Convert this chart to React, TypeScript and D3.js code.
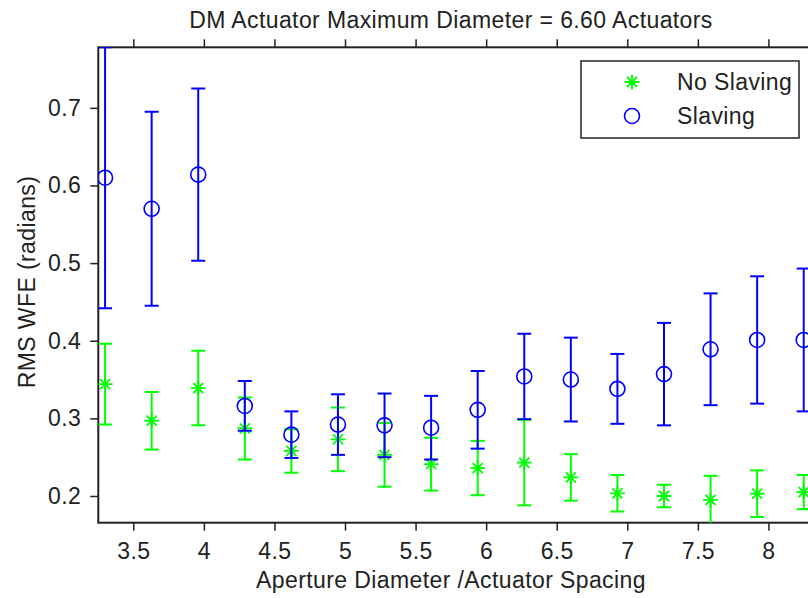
import { useEffect, useRef } from 'react';
import * as d3 from 'd3';

// aperture diameter / actuator spacing
const apertureRatio = [3.30, 3.63, 3.96, 4.29, 4.62, 4.95, 5.28, 5.61, 5.94, 6.27, 6.60, 6.93, 7.26, 7.59, 7.92, 8.25];

// No Slaving (green stars)
const noSlavingMean = [0.344, 0.297, 0.339, 0.287, 0.258, 0.273, 0.253, 0.241, 0.236, 0.243, 0.224, 0.2035, 0.200, 0.195, 0.203, 0.205];
const noSlavingErr = [0.052, 0.037, 0.048, 0.040, 0.028, 0.041, 0.041, 0.034, 0.035, 0.055, 0.030, 0.0235, 0.0145, 0.031, 0.030, 0.022];

// Slaving (blue circles)
const slavingMean = [0.610, 0.570, 0.614, 0.316, 0.279, 0.292, 0.291, 0.288, 0.311, 0.354, 0.350, 0.338, 0.357, 0.389, 0.401, 0.401];
const slavingErr = [0.168, 0.125, 0.111, 0.032, 0.030, 0.039, 0.041, 0.041, 0.050, 0.055, 0.054, 0.045, 0.066, 0.072, 0.082, 0.092];

const xTicks = [3.5, 4, 4.5, 5, 5.5, 6, 6.5, 7, 7.5, 8];
const yTicks = [0.2, 0.3, 0.4, 0.5, 0.6, 0.7];

const titleText = 'DM Actuator Maximum Diameter = 6.60 Actuators';
const xLabel = 'Aperture Diameter /Actuator Spacing';
const yLabel = 'RMS WFE (radians)';
const legendLabels = ['No Slaving', 'Slaving'];

const GREEN = '#00ff00';
const BLUE = '#0000ff';
const FONT = "'Liberation Sans', Arial, sans-serif";

type Pt = { x: number; y: number; e: number };

export default function App() {
  const svgRef = useRef<SVGSVGElement>(null);

  useEffect(() => {
    if (!svgRef.current) return;
    const width = 808;
    const height = 598;

    const svg = d3.select(svgRef.current);
    svg.selectAll('*').remove();
    svg.attr('width', width).attr('height', height);

    const margin = { top: 47.3, left: 98.3, bottom: 522.7 };

    const xScale = d3.scaleLinear().domain([3.252, 8.5]).range([margin.left, 839]);
    const yScale = d3.scaleLinear().domain([0.1656, 0.778]).range([margin.bottom, margin.top]);

    const fmtX = d3.format('~g');
    const fmtY = d3.format('.1f');

    // white background
    svg.append('rect').attr('width', width).attr('height', height).attr('fill', '#ffffff');

    const defs = svg.append('defs');
    defs.append('clipPath').attr('id', 'plot-clip')
      .append('rect')
      .attr('x', margin.left)
      .attr('y', margin.top)
      .attr('width', 839 - margin.left)
      .attr('height', margin.bottom - margin.top);

    // Axes with outward ticks
    const styleAxis = (g: d3.Selection<SVGGElement, unknown, null, undefined>) => {
      g.attr('font-family', FONT).attr('font-size', 23);
      g.select('.domain').remove();
      g.selectAll('.tick line').attr('stroke', '#222').attr('stroke-width', 1.5);
      g.selectAll('.tick text').attr('fill', '#222').attr('letter-spacing', 0.4);
    };

    svg.append('g')
      .attr('transform', `translate(0,${margin.bottom})`)
      .call(d3.axisBottom(xScale).tickValues(xTicks).tickFormat(d => fmtX(d as number)).tickSize(8).tickPadding(12))
      .call(styleAxis);

    svg.append('g')
      .attr('transform', `translate(0,${margin.top})`)
      .call(d3.axisTop(xScale).tickValues(xTicks).tickFormat(() => '').tickSize(8))
      .call(styleAxis);

    svg.append('g')
      .attr('transform', `translate(${margin.left},0)`)
      .call(d3.axisLeft(yScale).tickValues(yTicks).tickFormat(d => fmtY(d as number)).tickSize(8).tickPadding(9))
      .call(styleAxis);

    // axes box
    svg.append('rect')
      .attr('x', margin.left)
      .attr('y', margin.top)
      .attr('width', 839 - margin.left)
      .attr('height', margin.bottom - margin.top)
      .attr('fill', 'none')
      .attr('stroke', '#222')
      .attr('stroke-width', 2);

    const plot = svg.append('g').attr('clip-path', 'url(#plot-clip)');

    const capHalf = 7;
    const drawErrorBars = (data: Pt[], color: string) => {
      const gb = plot.append('g').attr('stroke', color).attr('stroke-width', 2).attr('fill', 'none');
      data.forEach(d => {
        const cx = xScale(d.x);
        const yt = yScale(d.y + d.e);
        const yb = yScale(d.y - d.e);
        gb.append('line').attr('x1', cx).attr('x2', cx).attr('y1', yt).attr('y2', yb);
        gb.append('line').attr('x1', cx - capHalf).attr('x2', cx + capHalf).attr('y1', yt).attr('y2', yt);
        gb.append('line').attr('x1', cx - capHalf).attr('x2', cx + capHalf).attr('y1', yb).attr('y2', yb);
      });
    };

    const star = (g: d3.Selection<SVGGElement, unknown, null, undefined>, cx: number, cy: number) => {
      const s = 7.5;
      const dg = 5;
      g.append('path')
        .attr('d', `M${cx - s},${cy}H${cx + s}M${cx},${cy - s}V${cy + s}M${cx - dg},${cy - dg}L${cx + dg},${cy + dg}M${cx - dg},${cy + dg}L${cx + dg},${cy - dg}`)
        .attr('stroke', GREEN)
        .attr('stroke-width', 1.8)
        .attr('fill', 'none');
    };

    const circle = (g: d3.Selection<SVGGElement, unknown, null, undefined>, cx: number, cy: number) => {
      g.append('circle')
        .attr('cx', cx).attr('cy', cy).attr('r', 7.5)
        .attr('fill', 'none')
        .attr('stroke', BLUE)
        .attr('stroke-width', 1.6);
    };

    const noSlaving: Pt[] = apertureRatio.map((x, i) => ({ x, y: noSlavingMean[i], e: noSlavingErr[i] }));
    const slaving: Pt[] = apertureRatio.map((x, i) => ({ x, y: slavingMean[i], e: slavingErr[i] }));

    drawErrorBars(noSlaving, GREEN);
    const gStars = plot.append('g');
    noSlaving.forEach(d => star(gStars, xScale(d.x), yScale(d.y)));

    drawErrorBars(slaving, BLUE);
    const gCircles = plot.append('g');
    slaving.forEach(d => circle(gCircles, xScale(d.x), yScale(d.y)));

    // Legend
    const legend = svg.append('g').attr('transform', 'translate(581,61)');
    legend.append('rect')
      .attr('width', 218)
      .attr('height', 77)
      .attr('fill', '#ffffff')
      .attr('stroke', '#222')
      .attr('stroke-width', 1.5);
    star(legend, 51, 21);
    circle(legend, 51, 55);
    legendLabels.forEach((label, i) => {
      legend.append('text')
        .attr('x', 96)
        .attr('y', 29 + i * 34)
        .attr('font-family', FONT)
        .attr('font-size', 23)
        .attr('letter-spacing', 0.4)
        .attr('fill', '#222')
        .text(label);
    });

    // Title
    svg.append('text')
      .attr('x', 451)
      .attr('y', 28)
      .attr('text-anchor', 'middle')
      .attr('font-family', FONT)
      .attr('font-size', 23)
      .attr('letter-spacing', 0.4)
      .attr('fill', '#222')
      .text(titleText);

    // X label
    svg.append('text')
      .attr('x', 451)
      .attr('y', 588)
      .attr('text-anchor', 'middle')
      .attr('font-family', FONT)
      .attr('font-size', 23)
      .attr('letter-spacing', 0.4)
      .attr('fill', '#222')
      .text(xLabel);

    // Y label
    svg.append('text')
      .attr('transform', 'translate(35,282) rotate(-90)')
      .attr('text-anchor', 'middle')
      .attr('font-family', FONT)
      .attr('font-size', 23)
      .attr('letter-spacing', 0.4)
      .attr('fill', '#222')
      .text(yLabel);
  }, []);

  return (
    <svg ref={svgRef} style={{ position: 'absolute', left: 0, top: 0, display: 'block' }} />
  );
}
